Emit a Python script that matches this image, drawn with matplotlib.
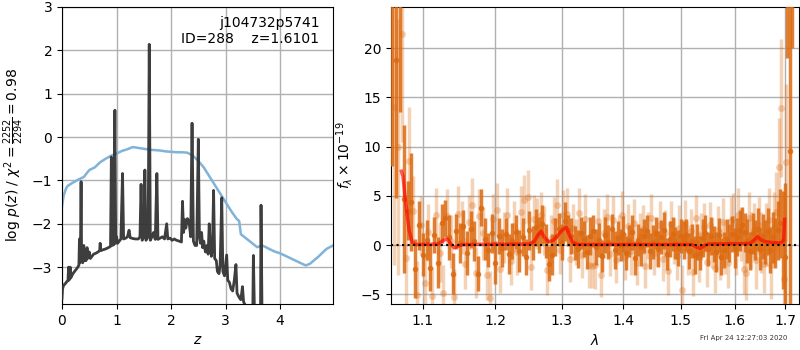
import numpy as np
import matplotlib
matplotlib.use("Agg")
import matplotlib.pyplot as plt

# ── redshift fit: log p(z) and scaled chi2 ──
z_pz = [0.00, 0.01, 0.03, 0.06, 0.09, 0.11, 0.12, 0.13, 0.15, 0.16, 0.20, 0.23, 0.26, 0.29,
        0.31, 0.32, 0.33, 0.34, 0.35, 0.36, 0.37, 0.38, 0.40, 0.41, 0.43, 0.44, 0.46, 0.47,
        0.50, 0.52, 0.55, 0.58, 0.62, 0.66, 0.69, 0.70, 0.71, 0.75, 0.80, 0.85, 0.89, 0.905,
        0.92, 0.95, 0.97, 0.985, 1.00, 1.02, 1.05, 1.08, 1.11, 1.13, 1.17, 1.20, 1.23, 1.25,
        1.30, 1.35, 1.40, 1.43, 1.45, 1.47, 1.50, 1.52, 1.54, 1.58, 1.60, 1.62, 1.65, 1.68,
        1.71, 1.74, 1.76, 1.80, 1.84, 1.88, 1.92, 1.94, 1.98, 2.02, 2.06, 2.10, 2.15, 2.19,
        2.21, 2.23, 2.25, 2.27, 2.30, 2.33, 2.36, 2.385, 2.41, 2.44, 2.47, 2.50, 2.52, 2.54,
        2.56, 2.58, 2.60, 2.63, 2.66, 2.68, 2.70, 2.72, 2.74, 2.76, 2.78, 2.80, 2.83, 2.85,
        2.88, 2.90, 2.93, 2.95, 2.98, 3.02, 3.04, 3.07, 3.10, 3.13, 3.16, 3.19, 3.21, 3.25,
        3.28, 3.31, 3.33, 3.37, 3.42, 3.47, 3.50, 3.51, 3.53, 3.60, 3.64, 3.65, 3.67, 3.75,
        4.00, 4.50, 5.00]
log_pz = [-3.72, -3.50, -3.42, -3.38, -3.33, -3.30, -3.00, -3.30, -3.00, -3.25, -3.15, -3.10, -3.05, -3.00,
          -2.95, -2.35, -2.90, -2.40, -1.03, -2.85, -2.60, -2.90, -2.50, -2.85, -2.65, -2.85, -2.55, -2.80,
          -2.65, -2.80, -2.75, -2.70, -2.68, -2.65, -2.62, -2.45, -2.62, -2.60, -2.58, -2.55, -2.52, -0.46,
          -2.50, -2.48, 0.62, -2.45, -2.30, -2.45, -2.40, -2.35, -0.84, -2.35, -2.33, -2.30, -2.15, -2.32,
          -2.34, -2.35, -2.35, -2.30, -1.09, -2.38, -2.30, -0.76, -2.38, -2.30, 2.14, -2.38, -2.30, -2.20,
          -2.36, -0.84, -2.36, -2.33, -2.30, -2.35, -2.00, -2.35, -2.33, -2.38, -2.35, -2.38, -2.40, -2.42,
          -1.48, -2.20, -1.90, -2.10, -1.88, -1.95, -2.30, 0.32, -2.40, -2.50, -2.50, -0.05, -2.30, -2.45,
          -2.20, -2.55, -2.40, -2.65, -2.50, -2.70, -2.00, -2.50, -2.75, -2.50, -1.23, -2.80, -2.85, -3.10,
          -3.15, -2.95, -1.40, -3.10, -3.20, -2.72, -3.30, -3.35, -3.50, -3.55, -3.30, -2.94, -3.60, -3.70,
          -3.75, -3.45, -3.80, -3.90, -4.10, -4.20, -3.90, -2.73, -4.10, -4.30, -4.20, -1.57, -4.30, -4.50,
          -5.00, -5.50, -6.00]

z_chi = [0.00, 0.03, 0.07, 0.10, 0.20, 0.30, 0.40, 0.50, 0.60, 0.70, 0.80, 0.90, 1.00, 1.10,
         1.20, 1.30, 1.40, 1.50, 1.60, 1.70, 1.80, 1.90, 2.00, 2.10, 2.20, 2.30, 2.40, 2.50,
         2.60, 2.70, 2.80, 2.90, 3.00, 3.10, 3.20, 3.25, 3.28, 3.40, 3.50, 3.58, 3.67, 3.74,
         3.80, 3.90, 4.00, 4.20, 4.40, 4.47, 4.55, 4.70, 4.85, 4.97]
chi_scaled = [-1.60, -1.35, -1.20, -1.13, -1.05, -0.98, -0.92, -0.76, -0.70, -0.58, -0.50, -0.43, -0.38, -0.32,
              -0.28, -0.23, -0.25, -0.27, -0.29, -0.30, -0.31, -0.33, -0.34, -0.35, -0.35, -0.36, -0.43, -0.55,
              -0.70, -0.90, -1.10, -1.30, -1.50, -1.70, -1.88, -1.94, -2.24, -2.36, -2.46, -2.54, -2.50, -2.54,
              -2.58, -2.64, -2.68, -2.80, -2.92, -2.96, -2.92, -2.76, -2.58, -2.50]

# ── 1D spectrum, two sets of beams on offset 0.005 um grids ──
flux_a = [30.0, 18.8, 26.0, 4.7, 3.5, 4.4, -2.4, 2.0, -1.0, 0.5, -2.3, 1.0, -1.8, 2.2,
          2.7, 0.8, -2.9, 1.4, 0.2, 1.9, -0.8, 1.6, 0.4, -2.9, 3.8, 0.6, -0.5, 1.2,
          -1.8, 0.9, -0.3, 1.1, -0.9, 0.4, 1.3, -0.6, 0.8, -1.2, 1.5, 0.2, 1.8, 1.0,
          2.1, 0.4, -1.9, -1.0, 0.8, 1.6, 0.3, 2.4, 1.5, 0.9, 0.2, -0.4, 1.2, 0.6,
          -0.7, 0.9, 1.4, -0.2, 0.5, -1.1, 1.0, 0.3, 1.6, -0.5, 0.7, 0.0, 1.1, -0.8,
          0.4, 1.3, -1.3, 0.5, -0.2, 0.9, 1.4, -0.6, 0.3, 1.2, -0.4, 0.8, 1.5, -0.9,
          0.6, 1.1, 0.2, -0.3, 0.9, 0.5, 1.0, -0.6, 0.4, -1.0, 0.3, -0.8, 0.7, 1.2,
          -0.4, 0.9, 0.1, -0.7, 1.0, -1.2, -0.5, 0.6, 0.2, 1.1, -0.3, 0.8, 1.5, 2.0,
          1.3, 0.4, -0.6, 1.2, 0.5, 1.6, -0.4, 0.9, 0.3, 1.4, -0.5, 0.8, 0.2, 1.5,
          2.2, 0.5, -1.2, 27.0, 9.6, 30.0]
err_a = [22.0, 14.0, 12.5, 7.5, 3.0, 5.0, 3.0, 2.5, 2.2, 2.0, 2.4, 1.8, 2.6, 2.0,
         1.9, 2.3, 2.1, 1.8, 2.0, 1.7, 2.2, 1.9, 2.0, 1.8, 1.9, 2.1, 1.7, 2.0,
         2.2, 1.8, 1.9, 1.6, 2.0, 1.8, 1.7, 2.1, 1.9, 1.8, 2.0, 1.7, 1.9, 1.8,
         2.0, 1.7, 1.8, 2.1, 1.9, 1.7, 1.8, 2.0, 1.6, 1.8, 1.7, 1.9, 1.6, 1.8,
         1.7, 1.9, 1.6, 1.8, 1.7, 1.6, 1.8, 1.7, 1.6, 1.9, 1.7, 1.6, 1.8, 1.7,
         1.6, 1.8, 1.7, 1.6, 1.9, 1.7, 1.6, 1.8, 1.7, 1.6, 1.8, 1.7, 1.9, 1.6,
         1.8, 1.7, 1.6, 1.8, 1.7, 1.9, 1.6, 1.8, 1.7, 1.9, 1.8, 1.7, 1.9, 1.8,
         1.7, 1.9, 1.8, 2.0, 1.7, 1.9, 1.8, 2.0, 1.9, 1.8, 2.0, 1.9, 2.1, 1.9,
         2.0, 2.2, 1.9, 2.1, 2.0, 2.2, 2.1, 2.3, 2.2, 2.4, 2.3, 2.6, 2.5, 3.0,
         3.5, 5.0, 7.5, 8.0, 16.0, 10.0]
wave_a = 1.060 + 0.005 * np.arange(len(flux_a))

flux_b = [14.0, 10.0, 21.5, -1.3, 8.5, 3.5, -5.1, 2.0, -3.9, 1.3, -5.2, 3.0, -0.8, -4.9,
          2.9, 0.4, -5.3, 3.2, 1.8, -1.9, 2.3, 4.1, -2.8, 2.9, 1.2, -3.0, -5.4, 2.6,
          3.6, -2.4, 0.8, 3.1, -1.6, 1.9, -0.7, 3.4, 4.6, 4.9, -2.2, 2.6, 2.2, 3.0,
          1.5, -2.5, 0.6, 2.4, 4.1, -0.5, 3.1, 3.2, -1.4, 1.7, 0.3, 3.3, -1.0, 2.6,
          -2.0, -2.1, -2.0, 2.4, -3.0, 1.2, 2.8, -0.9, 2.5, -1.5, 0.7, 3.0, -1.2, 1.9,
          -0.6, 2.2, -1.8, 0.9, 1.6, -2.1, 1.0, 2.7, -0.8, 0.3, 2.0, -1.4, 1.2, -2.6,
          2.1, 0.4, -1.1, 1.7, -4.6, 2.2, -0.5, 1.4, -2.7, 2.7, -1.2, 0.9, 1.8, -1.7,
          2.0, 0.2, -2.3, 1.5, -1.0, 2.3, -0.2, -1.8, 2.4, 2.6, -0.4, 3.0, 1.1, -2.4,
          -2.8, 2.7, 0.5, 1.5, -1.5, 2.0, 0.3, -1.9, 1.1, 2.5, -2.0, 1.8, 3.4, 7.9,
          13.9, -3.5, 8.4]
err_b = [16.0, 13.0, 11.0, 5.0, 5.5, 3.5, 3.5, 3.0, 3.0, 2.9, 3.0, 2.8, 3.0, 2.9,
         2.8, 2.7, 2.9, 2.8, 2.7, 2.6, 2.8, 2.7, 2.6, 2.8, 2.7, 2.6, 2.8, 2.6,
         2.7, 2.5, 2.6, 2.7, 2.5, 2.6, 2.4, 2.6, 2.5, 2.7, 2.4, 2.5, 2.6, 2.4,
         2.5, 2.6, 2.4, 2.5, 2.6, 2.4, 2.5, 2.6, 2.4, 2.5, 2.3, 2.5, 2.4, 2.6,
         2.4, 2.3, 2.5, 2.4, 2.3, 2.5, 2.4, 2.3, 2.5, 2.4, 2.3, 2.5, 2.4, 2.3,
         2.4, 2.5, 2.3, 2.4, 2.5, 2.3, 2.4, 2.5, 2.3, 2.4, 2.5, 2.3, 2.4, 2.5,
         2.4, 2.3, 2.5, 2.4, 2.6, 2.4, 2.5, 2.3, 2.5, 2.4, 2.6, 2.4, 2.5, 2.6,
         2.4, 2.5, 2.6, 2.5, 2.6, 2.5, 2.7, 2.6, 2.5, 2.7, 2.6, 2.8, 2.7, 2.6,
         2.8, 2.7, 2.9, 2.8, 3.0, 2.9, 3.1, 3.0, 3.2, 3.3, 3.5, 3.6, 4.0, 5.0,
         7.0, 9.0, 8.0]
wave_b = 1.0625 + 0.005 * np.arange(len(flux_b))

# best-fit template
wave_model = [1.072, 1.074, 1.078, 1.082, 1.086, 1.090, 1.120, 1.128, 1.133, 1.137, 1.142, 1.148,
              1.155, 1.250, 1.258, 1.264, 1.268, 1.273, 1.280, 1.287, 1.295, 1.302, 1.307, 1.312,
              1.318, 1.325, 1.520, 1.528, 1.535, 1.542, 1.550, 1.630, 1.638, 1.645, 1.652, 1.660,
              1.675, 1.690, 1.697, 1.699]
flux_model = [7.5, 7.0, 4.0, 1.5, 0.3, 0.05, 0.1, 0.5, 0.6, 0.2, -0.3, -0.1,
              0.05, 0.1, 0.4, 1.1, 1.4, 0.8, 0.3, 0.5, 1.1, 1.6, 1.8, 1.0,
              0.2, 0.05, 0.05, -0.2, -0.35, -0.1, 0.1, 0.15, 0.5, 0.85, 0.5, 0.35,
              0.25, 0.2, 0.4, 2.6]

lam_ticks = [1.1, 1.2, 1.3, 1.4, 1.5, 1.6, 1.7]

fig = plt.figure(figsize=(8, 3.5), dpi=100)
ax1 = fig.add_axes([0.0775, 0.1314, 0.33875, 0.8486])
ax2 = fig.add_axes([0.48875, 0.1314, 0.51, 0.8486])

ax1.plot(z_chi, chi_scaled, color="#7fb3d9", lw=1.8, zorder=2)
ax1.plot(z_pz, log_pz, color="#333333", lw=2.0, alpha=0.95, zorder=3)
ax1.set_xlim(0, 4.97)
ax1.set_ylim(-3.85, 3.0)
ax1.set_xticks([0, 1, 2, 3, 4])
ax1.set_yticks([-3, -2, -1, 0, 1, 2, 3])
ax1.grid(True, color="#b0b0b0", lw=1.0, zorder=0)
ax1.set_axisbelow(True)
ax1.set_xlabel("$z$")
ax1.set_ylabel(r"log $p(z)$ / $\chi^2=\frac{2252}{2294}=0.98$")
ax1.text(0.95, 0.97, "j104732p5741\nID=288    z=1.6101", transform=ax1.transAxes,
         ha="right", va="top", fontsize=10, linespacing=1.2)

orange = "#dc6a10"
ax2.errorbar(wave_b, flux_b, yerr=err_b, fmt="o", color=orange, ms=5, mec="none",
             elinewidth=2.5, alpha=0.3, zorder=2)
ax2.errorbar(wave_a, flux_a, yerr=err_a, fmt="o", color=orange, ms=4, mec="none",
             elinewidth=2.5, alpha=0.85, zorder=3)
ax2.plot(wave_model, flux_model, color="red", lw=2.5, alpha=0.65, zorder=5)
ax2.axhline(0, color="k", ls=":", lw=1.5, zorder=6)

ax2.set_xscale("log")
ax2.set_xlim(1.0587, 1.7288)
ax2.set_ylim(-6.0, 24.2)
ax2.set_xticks(lam_ticks)
ax2.set_xticklabels([f"{t:.1f}" for t in lam_ticks])
ax2.xaxis.set_minor_locator(matplotlib.ticker.NullLocator())
ax2.set_yticks([-5, 0, 5, 10, 15, 20])
ax2.grid(True, color="#b0b0b0", lw=1.0, zorder=0)
ax2.set_axisbelow(True)
ax2.set_xlabel(r"$\lambda$")
ax2.set_ylabel(r"$f_\lambda \times 10^{-19}$")

fig.text(0.984, 0.025, "Fri Apr 24 12:27:03 2020", ha="right", va="bottom",
         fontsize=5, color="#333333")

fig.savefig("out.png", dpi=100)
